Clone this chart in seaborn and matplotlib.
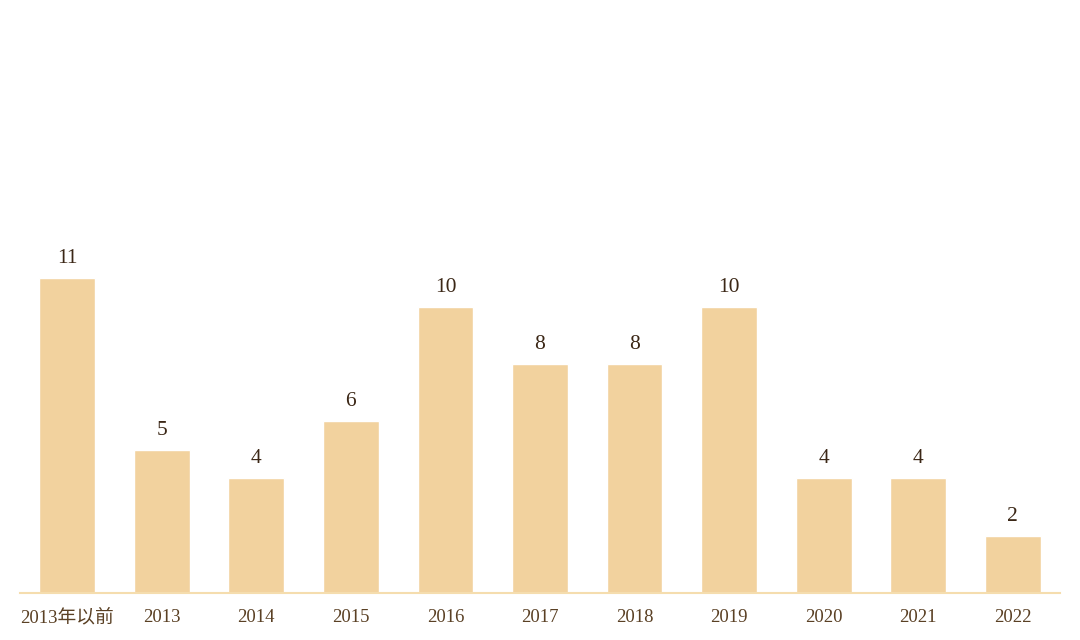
import matplotlib

matplotlib.use("Agg")

import matplotlib.pyplot as plt
import pandas as pd
import seaborn as sns

categories = ["2013年以前", "2013", "2014", "2015", "2016", "2017", "2018", "2019", "2020", "2021", "2022"]
counts = [11, 5, 4, 6, 10, 8, 8, 10, 4, 4, 2]

BAR_COLOR = "#F2D29E"
AXIS_COLOR = "#F5DDAE"
VALUE_COLOR = "#3B2716"
TICK_COLOR = "#5A4024"

sns.set_style("white")
plt.rcParams["font.family"] = ["Liberation Serif", "Noto Sans CJK SC"]

df = pd.DataFrame({"category": categories, "count": counts})

fig = plt.figure(figsize=(10.8, 6.4), dpi=100)
ax = fig.add_axes([20 / 1080, 47 / 640, 1040 / 1080, 593 / 640])
sns.barplot(data=df, x="category", y="count", color=BAR_COLOR, width=0.59, saturation=1, ax=ax)

for i, v in enumerate(counts):
    ax.text(i, v + 0.35, str(v), ha="center", va="bottom", fontsize=15.5, color=VALUE_COLOR)

ax.set_xlim(-0.5, len(categories) - 0.5)
ax.set_ylim(0, 20.7)
ax.set_xlabel("")
ax.set_ylabel("")
ax.set_yticks([])
ax.tick_params(axis="x", length=0, pad=21, labelsize=13.5, labelcolor=TICK_COLOR)
for label in ax.get_xticklabels():
    label.set_verticalalignment("baseline")
for name in ["top", "right", "left"]:
    ax.spines[name].set_visible(False)
ax.spines["bottom"].set_color(AXIS_COLOR)
ax.spines["bottom"].set_linewidth(1.5)

fig.savefig("out.png", dpi=100)
plt.close(fig)
